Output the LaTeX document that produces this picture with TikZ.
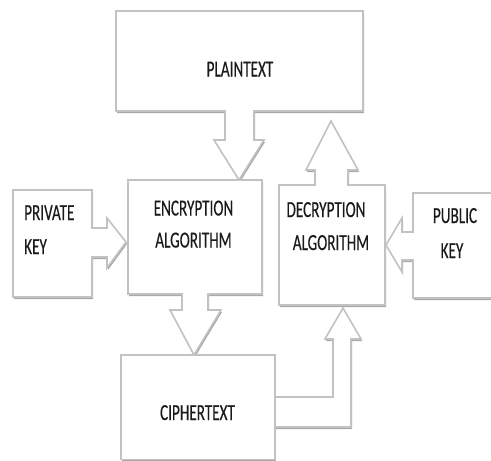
\documentclass[tikz,border=0pt]{standalone}
\usepackage{fontspec}
\usetikzlibrary{shadows}
\newfontfamily\lblfont[FakeStretch=0.66,FakeBold=0.3]{Carlito}
\definecolor{edgegray}{HTML}{C2C2C2}
\definecolor{shadegray}{HTML}{A8A8A8}
\definecolor{inkgray}{HTML}{1A1A1A}
\begin{document}
\begin{tikzpicture}[x=1pt,y=-1pt,
  callout/.style={fill=white, draw=edgegray, line width=1.6pt, line join=miter,
    drop shadow={shadow xshift=1pt, shadow yshift=-2pt, fill=shadegray, opacity=1}},
  lbl/.style={inner sep=0pt, anchor=base, text=inkgray,
    font=\lblfont\fontsize{23}{27}\selectfont}
]
\useasboundingbox (0,0) rectangle (491,461);

% bent arrow from the ciphertext up to the decryption block
\path[callout] (275,397) -- (333,397) -- (333,339) -- (325,339) -- (343,308)
  -- (361,339) -- (351,339) -- (351,427) -- (275,427) -- cycle;

% plaintext with its down arrow
\path[callout] (116,11) -- (363,11) -- (363,111) -- (254,111) -- (254,140)
  -- (264,140) -- (239,180) -- (214,140) -- (225,140) -- (225,111)
  -- (116,111) -- cycle;

% encryption block with its down arrow
\path[callout] (128,180) -- (262,180) -- (262,294) -- (208,294) -- (208,310)
  -- (221,310) -- (194,355) -- (170,310) -- (182,310) -- (182,294)
  -- (128,294) -- cycle;

% decryption block with its up arrow
\path[callout] (279,185) -- (315,185) -- (315,170) -- (306,170) -- (331,121)
  -- (358,170) -- (348,170) -- (348,185) -- (385,185) -- (385,305)
  -- (279,305) -- cycle;

% private key with its right arrow
\path[callout] (13,190) -- (92,190) -- (92,228) -- (107,228) -- (107,218)
  -- (126,242) -- (107,268) -- (107,257) -- (92,257) -- (92,297)
  -- (13,297) -- cycle;

% public key with its left arrow
\path[callout] (413,193) -- (495,193) -- (495,298) -- (413,298) -- (413,260)
  -- (402,260) -- (402,272) -- (386,245) -- (402,218) -- (402,232)
  -- (413,232) -- cycle;

% ciphertext
\path[callout] (121,355) rectangle (275,459.5);

% labels
\node[lbl] (plain) at (240,76.5) {PLAINTEXT};
\node[lbl] (enc1) at (193.5,215.5) {ENCRYPTION};
\node[lbl] (enc2) at (193.5,247.5) {ALGORITHM};
\node[lbl] (dec1) at (326,217) {DECRYPTION};
\node[lbl] (dec2) at (331,250) {ALGORITHM};
\node[lbl, anchor=base west] (priv1) at (24,220) {PRIVATE};
\node[lbl, anchor=base west] (priv2) at (24,254) {KEY};
\node[lbl] (pub1) at (455,223) {PUBLIC};
\node[lbl] (pub2) at (452,258) {KEY};
\node[lbl] (ciph) at (197.5,420) {CIPHERTEXT};
\end{tikzpicture}
\end{document}
